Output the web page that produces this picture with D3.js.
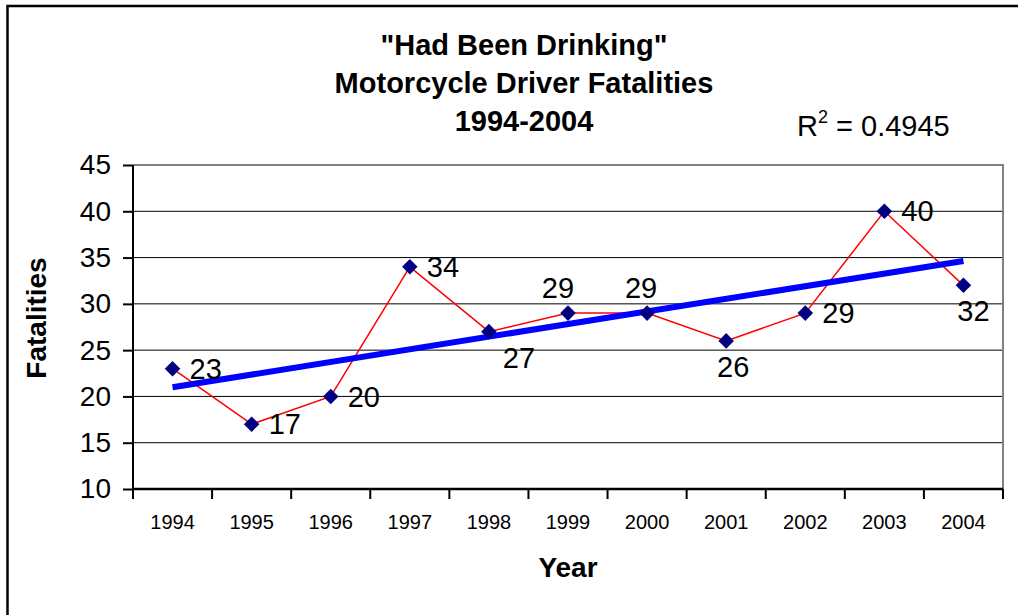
<!DOCTYPE html>
<html>
<head>
<meta charset="utf-8">
<script src="https://cdn.jsdelivr.net/npm/d3@7"></script>
<style>
  body { margin: 0; background: #fff; }
  svg { display: block; font-family: Arial, "Liberation Sans", sans-serif; }
</style>
</head>
<body>
<svg id="chart" width="1018" height="615"></svg>
<script>
const years = ['1994', '1995', '1996', '1997', '1998', '1999', '2000', '2001', '2002', '2003', '2004'];
const fatalities = [23, 17, 20, 34, 27, 29, 29, 26, 29, 40, 32];
const yTicks = [10, 15, 20, 25, 30, 35, 40, 45];
const titleLines = ['"Had Been Drinking"', 'Motorcycle Driver Fatalities', '1994-2004'];
// where excel put each data label
const labelPos = ['right', 'right', 'right', 'right', 'below', 'above', 'above', 'below', 'right', 'right', 'below'];
const labelDx = [0, 0, 0, 0, 30, -10, -6, 7, 0, 0, 10];

const svg = d3.select('#chart');
const margin = { top: 165, right: 15, bottom: 126, left: 133 };
const width = +svg.attr('width');
const height = +svg.attr('height');
const innerWidth = width - margin.left - margin.right;
const innerHeight = height - margin.top - margin.bottom;

// outer chart border (runs off the right/bottom of the picture)
svg.append('path')
    .attr('d', 'M7.5,1000 L7.5,6 L1100,6')
    .attr('fill', 'none')
    .attr('stroke', '#000')
    .attr('stroke-width', 2.5);

const g = svg.append('g')
    .attr('transform', `translate(${margin.left},${margin.top})`);

const x = d3.scaleBand().domain(years).range([0, innerWidth]);
const y = d3.scaleLinear().domain([10, 45]).range([innerHeight, 0]);
const cx = d => x(d) + x.bandwidth() / 2;

// gridlines
g.selectAll('.grid')
    .data(yTicks.filter(t => t > 10 && t < 45)).enter()
    .append('line')
    .attr('x1', 0).attr('x2', innerWidth)
    .attr('y1', d => y(d)).attr('y2', d => y(d))
    .attr('stroke', '#000').attr('stroke-width', 1);

// plot area border top/right
g.append('path')
    .attr('d', `M0,${y(45)} L${innerWidth},${y(45)} L${innerWidth},${innerHeight}`)
    .attr('fill', 'none')
    .attr('stroke', '#808080')
    .attr('stroke-width', 2);

// y axis
const yAxis = g.append('g')
    .call(d3.axisLeft(y).tickValues(yTicks).tickSize(10).tickPadding(12));
yAxis.select('.domain').attr('stroke-width', 2).attr('d', `M0,${y(45)}V${innerHeight}`);
yAxis.selectAll('.tick line').attr('stroke-width', 2);
yAxis.selectAll('.tick text')
    .attr('font-size', 28).attr('fill', '#000');

// x axis with ticks between categories
const xAxis = g.append('g')
    .attr('transform', `translate(0,${innerHeight})`);
xAxis.append('line')
    .attr('x1', 0).attr('x2', innerWidth)
    .attr('stroke', '#000').attr('stroke-width', 2.5);
const bounds = years.map(d => x(d)).concat([innerWidth]);
xAxis.selectAll('.xtick')
    .data(bounds).enter()
    .append('line')
    .attr('x1', d => d).attr('x2', d => d)
    .attr('y1', 0).attr('y2', 10)
    .attr('stroke', '#000').attr('stroke-width', 2);
xAxis.selectAll('.xlabel')
    .data(years).enter()
    .append('text')
    .attr('x', d => cx(d))
    .attr('y', 40)
    .attr('text-anchor', 'middle')
    .attr('font-size', 20)
    .text(d => d);

// series line
const pts = years.map((d, i) => ({ year: d, value: fatalities[i], i: i }));
g.append('path')
    .datum(pts)
    .attr('fill', 'none')
    .attr('stroke', '#ff0000')
    .attr('stroke-width', 1.5)
    .attr('d', d3.line().x(d => cx(d.year)).y(d => y(d.value)));

// linear trend line
const n = fatalities.length;
const mx = d3.mean(pts, d => d.i);
const my = d3.mean(fatalities);
const sxy = d3.sum(pts, d => (d.i - mx) * (d.value - my));
const sxx = d3.sum(pts, d => (d.i - mx) ** 2);
const syy = d3.sum(pts, d => (d.value - my) ** 2);
const slope = sxy / sxx;
const icpt = my - slope * mx;
const r2 = (sxy * sxy) / (sxx * syy);
g.append('line')
    .attr('x1', cx(years[0])).attr('y1', y(icpt))
    .attr('x2', cx(years[n - 1])).attr('y2', y(icpt + slope * (n - 1)))
    .attr('stroke', '#0000ff')
    .attr('stroke-width', 6);

// markers
g.selectAll('.marker')
    .data(pts).enter()
    .append('path')
    .attr('transform', d => `translate(${cx(d.year)},${y(d.value)}) rotate(45)`)
    .attr('d', 'M-5.5,-5.5 L5.5,-5.5 L5.5,5.5 L-5.5,5.5 Z')
    .attr('fill', '#000080');

// data labels
g.selectAll('.dlabel')
    .data(pts).enter()
    .append('text')
    .attr('x', d => {
        if (labelPos[d.i] === 'right') return cx(d.year) + 17;
        return cx(d.year) + labelDx[d.i];
    })
    .attr('y', d => {
        if (labelPos[d.i] === 'above') return y(d.value) - 25;
        if (labelPos[d.i] === 'below') return y(d.value) + 26;
        return y(d.value);
    })
    .attr('dy', '0.35em')
    .attr('text-anchor', d => labelPos[d.i] === 'right' ? 'start' : 'middle')
    .attr('font-size', 29)
    .text(d => d.value);

// title
svg.selectAll('.title')
    .data(titleLines).enter()
    .append('text')
    .attr('x', 524)
    .attr('y', (d, i) => 55 + i * 38)
    .attr('text-anchor', 'middle')
    .attr('font-size', 29)
    .attr('font-weight', 'bold')
    .text(d => d);

// R squared
const r2text = svg.append('text')
    .attr('x', 797).attr('y', 136)
    .attr('font-size', 29);
r2text.append('tspan').text('R');
r2text.append('tspan').attr('font-size', 18).attr('dy', -13).text('2');
r2text.append('tspan').attr('dy', 13).text(' = ' + r2.toFixed(4));

// axis titles
svg.append('text')
    .attr('transform', 'translate(46,318) rotate(-90)')
    .attr('text-anchor', 'middle')
    .attr('font-size', 28)
    .attr('font-weight', 'bold')
    .text('Fatalities');
svg.append('text')
    .attr('x', 568).attr('y', 577)
    .attr('text-anchor', 'middle')
    .attr('font-size', 28)
    .attr('font-weight', 'bold')
    .text('Year');
</script>
</body>
</html>
